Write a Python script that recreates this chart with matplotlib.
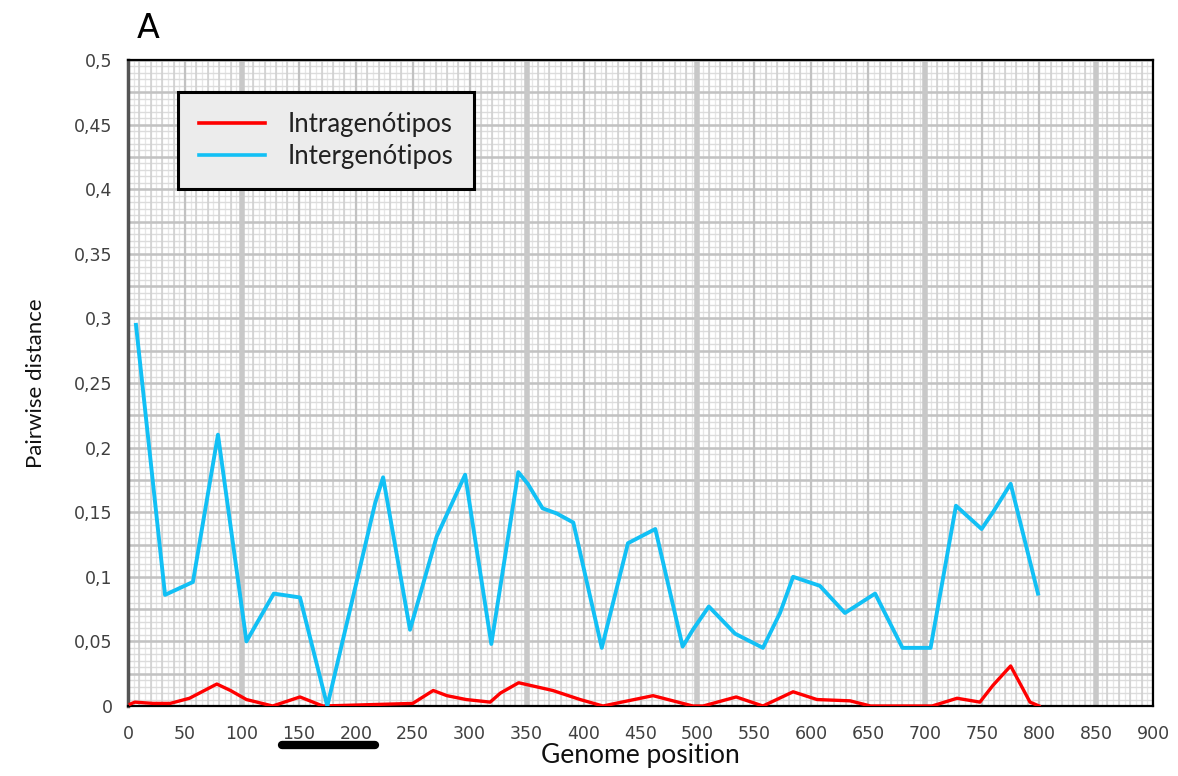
import numpy as np
import matplotlib
matplotlib.use("Agg")
import matplotlib.pyplot as plt
from matplotlib.ticker import FixedLocator, FuncFormatter
import matplotlib.transforms as mtransforms

# ---- data ----
inter_pos = [7, 32.5, 57, 79, 104, 128, 151, 175, 217, 224, 247.6, 271, 296, 319,
             342.7, 351, 364, 376.5, 391, 416, 439, 463, 487, 496, 510, 533, 557.5,
             572.5, 584, 607.5, 629.5, 656, 680, 704.7, 727, 749.5, 759.5, 775, 799]
inter_val = [0.295, 0.086, 0.096, 0.21, 0.05, 0.087, 0.084, 0.0, 0.157, 0.177, 0.059,
             0.131, 0.179, 0.048, 0.181, 0.172, 0.153, 0.149, 0.142, 0.045, 0.126,
             0.137, 0.046, 0.059, 0.077, 0.056, 0.045, 0.072, 0.100, 0.093, 0.072,
             0.087, 0.045, 0.045, 0.155, 0.137, 0.150, 0.172, 0.087]

intra_pos = [2, 6, 22, 37, 54, 78, 90, 104, 127, 151, 171, 250, 268, 280, 297, 318,
             327, 343, 373, 397, 417, 461, 496, 505, 534, 557.5, 584, 605, 634, 652,
             669, 706, 728, 748, 759.5, 775, 792, 800]
intra_val = [0.0015, 0.003, 0.002, 0.002, 0.006, 0.017, 0.012, 0.005, 0.0, 0.007, 0.0,
             0.002, 0.012, 0.008, 0.005, 0.003, 0.010, 0.018, 0.012, 0.005, 0.0, 0.008,
             0.0, 0.0, 0.007, 0.0, 0.011, 0.005, 0.004, 0.0, 0.0, 0.0, 0.006, 0.003,
             0.016, 0.031, 0.003, 0.0]

x_ticks = list(range(0, 901, 50))
y_ticks = [0, 0.05, 0.1, 0.15, 0.2, 0.25, 0.3, 0.35, 0.4, 0.45, 0.5]
series_names = ["Intragenótipos", "Intergenótipos"]
marked_region = [135, 217]

# ---- figure ----
fig = plt.figure(figsize=(11.78, 7.76), dpi=100)
ax = fig.add_axes([128/1178, 70/776, 1025/1178, 646/776])
ax.set_xlim(0, 900)
ax.set_ylim(0, 0.5)

# graph-paper grid
for v in np.arange(0, 900.1, 5):
    ax.axvline(v, color="#e6e6e6", lw=0.9, zorder=0)
for v in np.arange(0, 0.5001, 0.005):
    ax.axhline(v, color="#dcdcdc", lw=1.0, zorder=0.1)
for v in np.arange(0, 900.1, 10):
    ax.axvline(v, color="#cfcfcf", lw=1.1, zorder=0.2)
for v in np.arange(0, 0.5001, 0.025):
    ax.axhline(v, color="#c2c2c2", lw=1.8, zorder=0.3)
for v in np.arange(0, 900.1, 50):
    ax.axvline(v, color="#c2c2c2", lw=1.6, zorder=0.4)
for v in [100, 350, 500, 700, 850]:
    ax.axvline(v, color="#c8c8c8", lw=4, zorder=0.5)

ax.plot(intra_pos, intra_val, color="#ff0000", lw=2.4, label=series_names[0],
        zorder=3, solid_joinstyle="round")
ax.plot(inter_pos, inter_val, color="#12c0f5", lw=2.8, label=series_names[1],
        zorder=3, solid_joinstyle="round")

ax.xaxis.set_major_locator(FixedLocator(x_ticks))
ax.yaxis.set_major_locator(FixedLocator(y_ticks))
ax.yaxis.set_major_formatter(FuncFormatter(lambda v, p: ("%g" % v).replace(".", ",")))
ax.xaxis.set_major_formatter(FuncFormatter(lambda v, p: "%d" % v))
ax.tick_params(axis="both", length=0, labelsize=12.5, labelcolor="#404040")
ax.tick_params(axis="x", pad=14)
ax.tick_params(axis="y", pad=11)

for s in ["top", "right", "bottom"]:
    ax.spines[s].set_color("black")
    ax.spines[s].set_linewidth(1.6)
ax.spines["left"].set_color("#555555")
ax.spines["left"].set_linewidth(2.5)

ax.set_xlabel("Genome position", fontsize=19, family="Lato", color="#111111", labelpad=0)
ax.set_ylabel("Pairwise distance", fontsize=16, family="Lato", color="#111111", labelpad=20)

leg = ax.legend(loc="upper left", bbox_to_anchor=(0.0488, 0.951), frameon=True,
                fancybox=False, shadow=False, prop={"family": "Lato", "size": 18.5},
                handlelength=2.6, handletextpad=0.85, borderpad=0.8, labelspacing=0.25,
                borderaxespad=0)
leg.get_frame().set_facecolor("#ececec")
leg.get_frame().set_edgecolor("black")
leg.get_frame().set_linewidth(2.2)
leg.get_frame().set_alpha(1)
for t in leg.get_texts():
    t.set_color("#222222")
for h in leg.get_lines():
    h.set_linewidth(2.6)

# marker bar under the x axis
trans = mtransforms.blended_transform_factory(ax.transData, ax.transAxes)
ax.plot(marked_region, [-0.06, -0.06], color="black", lw=6, solid_capstyle="round",
        transform=trans, clip_on=False)

fig.text(148/1178, 1 - 28/776, "A", fontsize=24, family="DejaVu Sans",
         ha="center", va="center", color="black")

fig.savefig("out.png", dpi=100, facecolor="white")
